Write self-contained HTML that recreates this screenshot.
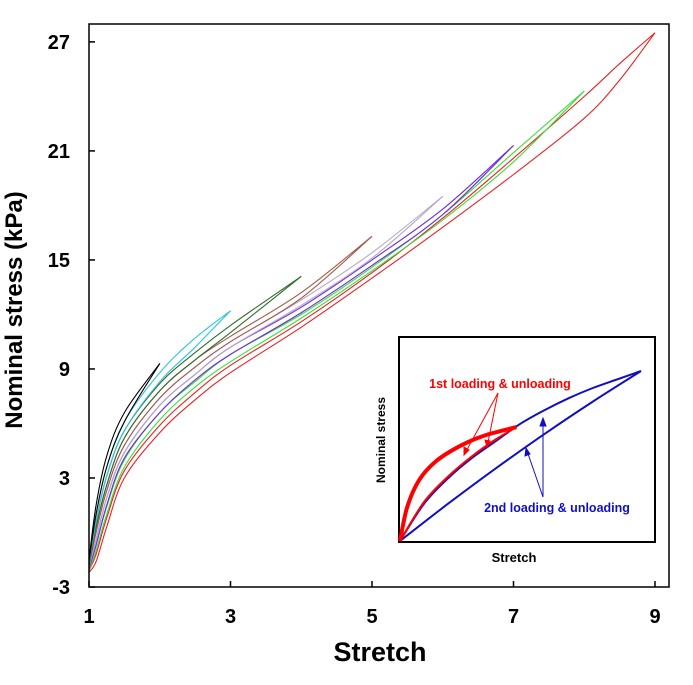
<!DOCTYPE html>
<html><head><meta charset="utf-8"><style>
body{margin:0;background:#fff;}
svg text{font-family:"Liberation Sans",Arial,sans-serif;font-weight:bold;}
</style></head><body>
<svg id="chart" width="693" height="680" xmlns="http://www.w3.org/2000/svg">
<rect x="0" y="0" width="693" height="680" fill="#fff"/>
<g id="curves"></g>
<rect x="89" y="24" width="580" height="563" fill="none" stroke="#000" stroke-width="1.5"/>
<g id="axes"></g>
<text x="22" y="310" font-size="24" text-anchor="middle" transform="rotate(-90 22 310)">Nominal stress (kPa)</text>
<text x="380" y="661" font-size="27" text-anchor="middle">Stretch</text>
<g id="inset">
<rect x="399" y="337" width="256" height="205" fill="#fff" stroke="#000" stroke-width="2"/>
<g id="insetCurves"></g>
<text x="385" y="440" font-size="12" text-anchor="middle" transform="rotate(-90 385 440)">Nominal stress</text>
<text x="514" y="562" font-size="13" text-anchor="middle">Stretch</text>
<text x="500" y="388" font-size="12.5" fill="#f00" text-anchor="middle">1st loading &amp; unloading</text>
<text x="557" y="512" font-size="12.5" fill="#1010c0" text-anchor="middle">2nd loading &amp; unloading</text>
<g stroke="#f00" stroke-width="1" fill="#f00">
<line x1="498" y1="393" x2="464" y2="455"/><line x1="498" y1="393" x2="487" y2="447"/>
<polygon points="464,455 464,447 469,450"/><polygon points="487,447 485,440 490,441"/>
</g>
<g stroke="#1010c0" stroke-width="1" fill="#1010c0">
<line x1="543" y1="497" x2="543" y2="418"/><line x1="543" y1="497" x2="526" y2="448"/>
<polygon points="543,418 540,426 546,426"/><polygon points="526,448 525,456 530,454"/>
</g>
</g>
</svg>
<script>
const stretchGrid=[1,1.1,1.25,1.5,2,2.5,3,4,5,6,7,8,8.5,9];
const cycleColors=["#000","#2bc4dc","#2e6b2e","#a05a4a","#b8a8c8","#6a2be0","#3ddc3d","#e82020"];
const cycleNames=["cycle-2","cycle-3","cycle-4","cycle-5","cycle-6","cycle-7","cycle-8","cycle-9"];
const loadingStress=[
[-1.5,1.5,4.2,6.6,9.3],
[-1.6,1.0,3.6,6.1,8.8,10.7,12.2],
[-1.7,0.6,3.1,5.6,8.2,9.9,11.4,14.1],
[-1.8,0.3,2.6,5.2,7.8,9.5,10.8,13.2,16.3],
[-1.85,0,2.3,4.8,7.4,9.1,10.5,12.8,15.4,18.5],
[-1.9,-0.4,1.9,4.4,7.0,8.7,10.2,12.4,15.0,17.8,21.3],
[-2,-0.7,1.4,4.0,6.6,8.3,9.8,12.0,14.6,17.5,20.9,24.3],
[-2.1,-1.2,0.8,3.4,5.9,7.7,9.2,11.6,14.3,17.3,20.6,24.0,25.8,27.5]];
const unloadingStress=[
[-1.6,1.0,3.6,6.1,9.3],
[-1.7,0.6,3.1,5.6,8.3,10.2,12.2],
[-1.8,0.3,2.6,5.2,7.8,9.5,11.0,14.1],
[-1.85,0,2.3,4.8,7.4,9.1,10.5,12.9,16.3],
[-1.9,-0.4,1.9,4.4,7.0,8.7,10.2,12.5,15.1,18.5],
[-2,-0.7,1.5,4.1,6.6,8.4,9.8,12.1,14.7,17.5,21.3],
[-2.1,-1.0,1.0,3.6,6.2,8.0,9.4,11.8,14.4,17.2,20.4,24.3],
[-2.2,-1.6,0.3,3.0,5.5,7.3,8.8,11.3,14.0,16.8,19.7,22.8,24.9,27.5]];
const xTicks=[1,3,5,7,9];
const yTicks=[-3,3,9,15,21,27];
// inset data (arbitrary units)
const redLoadX=[0,0.3,0.8,1.5,2.5,3.5,4.83];
const redLoadY=[0,2,3.6,4.7,5.6,6.2,6.7];
const redUnloadX=[0,1,2,3,4,4.83];
const redUnloadY=[0,2.3,3.8,5,6,6.7];
const blueLoadX=[0,1,2,3,4,5,6,7,8,9,10];
const blueLoadY=[0,2.2,3.7,4.9,5.9,6.9,7.7,8.4,9.0,9.5,10];
const blueUnloadX=[0,2,4,6,8,10];
const blueUnloadY=[0,2.2,4.3,6.3,8.2,10];

const xS=v=>89+(v-1)*70.75;
const yS=v=>587-(v+3)*18.17;
const ixS=v=>400+v*24.1;
const iyS=v=>541-v*17;
const NS="http://www.w3.org/2000/svg";
function smooth(pts){
  let d="M"+pts[0][0].toFixed(1)+","+pts[0][1].toFixed(1);
  for(let i=0;i<pts.length-1;i++){
    const p0=pts[Math.max(i-1,0)],p1=pts[i],p2=pts[i+1],p3=pts[Math.min(i+2,pts.length-1)];
    const c1=[p1[0]+(p2[0]-p0[0])/6,p1[1]+(p2[1]-p0[1])/6];
    const c2=[p2[0]-(p3[0]-p1[0])/6,p2[1]-(p3[1]-p1[1])/6];
    d+="C"+c1[0].toFixed(1)+","+c1[1].toFixed(1)+" "+c2[0].toFixed(1)+","+c2[1].toFixed(1)+" "+p2[0].toFixed(1)+","+p2[1].toFixed(1);
  }
  return d;
}
function addPath(parent,d,color,w,name){
  const p=document.createElementNS(NS,"path");
  p.setAttribute("d",d);p.setAttribute("fill","none");p.setAttribute("stroke",color);p.setAttribute("stroke-width",w);
  
  
  parent.appendChild(p);
}
const cg=document.getElementById("curves");
for(let k=cycleColors.length-1;k>=0;k--){
  const lp=loadingStress[k].map((v,i)=>[xS(stretchGrid[i]),yS(v)]);
  const up=unloadingStress[k].map((v,i)=>[xS(stretchGrid[i]),yS(v)]);
  addPath(cg,smooth(lp),cycleColors[k],1.1,cycleNames[k]+"-loading");
  addPath(cg,smooth(up),cycleColors[k],1.1,cycleNames[k]+"-unloading");
}
const ag=document.getElementById("axes");
xTicks.forEach(t=>{
  const l=document.createElementNS(NS,"line");
  l.setAttribute("x1",xS(t));l.setAttribute("x2",xS(t));l.setAttribute("y1",587);l.setAttribute("y2",581);l.setAttribute("stroke","#000");l.setAttribute("stroke-width","1.5");
  
  
  ag.appendChild(l);
  const tx=document.createElementNS(NS,"text");
  tx.setAttribute("x",xS(t));tx.setAttribute("y",623);tx.setAttribute("font-size","20");tx.setAttribute("text-anchor","middle");
  tx.textContent=t;
  
  
  ag.appendChild(tx);
});
yTicks.forEach(t=>{
  const l=document.createElementNS(NS,"line");
  l.setAttribute("x1",89);l.setAttribute("x2",95);l.setAttribute("y1",yS(t));l.setAttribute("y2",yS(t));l.setAttribute("stroke","#000");l.setAttribute("stroke-width","1.5");
  
  
  ag.appendChild(l);
  const tx=document.createElementNS(NS,"text");
  tx.setAttribute("x",70);tx.setAttribute("y",yS(t)+7);tx.setAttribute("font-size","20");tx.setAttribute("text-anchor","end");
  tx.textContent=t;
  
  
  ag.appendChild(tx);
});
const ig=document.getElementById("insetCurves");
const mk=(X,Y)=>X.map((v,i)=>[ixS(v),iyS(Y[i])]);
addPath(ig,smooth(mk(blueUnloadX,blueUnloadY)),"#1010c0",2,"inset-second-unloading");
addPath(ig,smooth(mk(blueLoadX,blueLoadY)),"#1010c0",2,"inset-second-loading");
addPath(ig,smooth(mk(redUnloadX,redUnloadY)),"#f00",2,"inset-first-unloading");
addPath(ig,smooth(mk(redLoadX,redLoadY)),"#f00",4,"inset-first-loading");
</script>
</body></html>
